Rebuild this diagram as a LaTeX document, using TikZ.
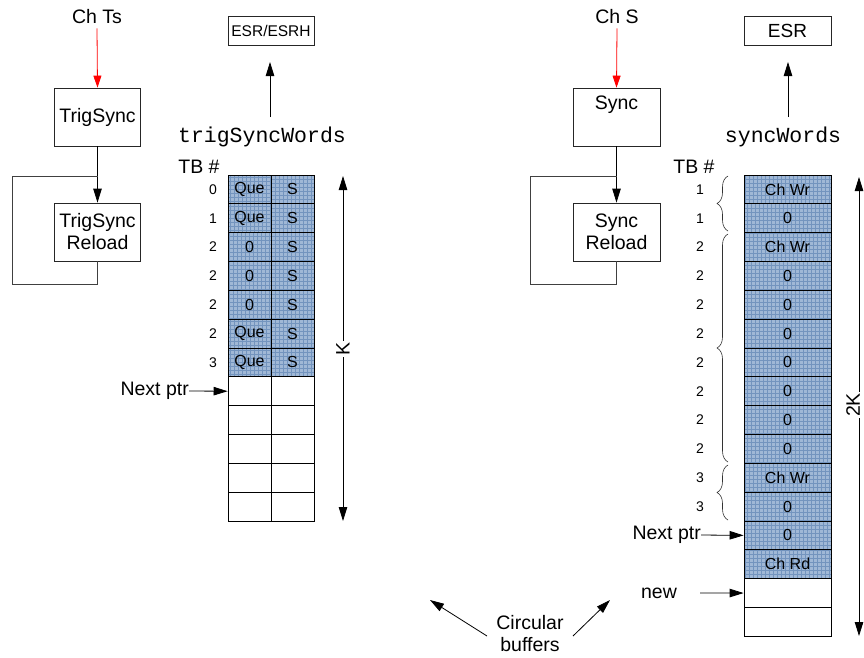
\documentclass[tikz,border=0pt]{standalone}
\usepackage{fontspec}
\setmainfont{Liberation Sans}
\setmonofont{Liberation Mono}
\usetikzlibrary{arrows.meta,decorations.pathreplacing,calc}
\definecolor{cellblue}{HTML}{A0B8D6}
\definecolor{gridblue}{HTML}{7394BE}
\begin{document}
\begin{tikzpicture}[x=1pt,y=-1pt,
  lbl/.style={font=\fontsize{19.5}{22}\selectfont, inner sep=0pt},
  box/.style={draw=black!85, line width=0.8pt, minimum width=86pt, minimum height=58pt, align=center, font=\fontsize{19.5}{22}\selectfont, inner sep=0pt},
  smallbox/.style={draw=black!85, line width=0.8pt, minimum width=86pt, minimum height=29pt, inner sep=0pt},
  tb/.style={font=\fontsize{14}{16}\selectfont, inner sep=0pt},
  mono/.style={font=\ttfamily\fontsize{21.5}{24}\selectfont, inner sep=0pt},
  arr/.style={line width=0.8pt, -{Triangle[length=14pt,width=8.5pt]}},
  redarr/.style={red, line width=0.8pt, -{Triangle[length=12pt,width=8pt]}},
  darr/.style={line width=0.8pt, {Triangle[length=14pt,width=8.5pt]}-{Triangle[length=14pt,width=8.5pt]}},
  loopline/.style={black!75, line width=0.8pt},
  cell/.style={draw=black, line width=0.8pt, minimum height=28.83pt, inner sep=0pt, font=\fontsize{16}{18}\selectfont},
  bluecell/.style={cell, fill=cellblue, path picture={\draw[gridblue, line width=0.35pt, step=4pt] (path picture bounding box.south west) grid (path picture bounding box.north east);}},
  brc/.style={decorate, decoration={brace, amplitude=11pt}, line width=0.6pt, black!80},
]
\useasboundingbox (0,0) rectangle (864,657);

% ---------------- LEFT PART ----------------
\node[lbl] (chts) at (97,17) {Ch Ts};
\node[box] (trig) at (97.5,117) {TrigSync};
\node[box] (trigr) at (97.5,232) {TrigSync\\Reload};
\draw[redarr] (chts.south) ++(0,4) coordinate (rs1) -- (trig.north);
\draw[arr] (trig.south) -- (trigr.north);
\coordinate (lj) at (97.5,176);
\draw[loopline] (trigr.south) -- ++(0,23) -| (12,176) -- (lj);

\node[smallbox, font=\fontsize{15.5}{18}\selectfont] (esrh) at (271,30.5) {ESR/ESRH};
\node[mono] (tsw) at (262,137) {trigSyncWords};
\coordinate (a1s) at (270,117);
\coordinate (a1e) at (270,62);
\draw[arr] (a1s) -- (a1e);

\node[lbl] (tbl) at (199,167) {TB \#};

\foreach \i/\a/\t in {0/Que/0,1/Que/1,2/0/2,3/0/2,4/0/2,5/Que/2,6/Que/3}{
  \node[bluecell, minimum width=43pt] (L\i-a) at (249.5,{175+28.83*(\i+0.5)}) {\a};
  \node[bluecell, minimum width=43pt] (L\i-b) at (292.5,{175+28.83*(\i+0.5)}) {S};
  \node[tb] (Lt\i) at (213,{175+28.83*(\i+0.5)}) {\t};
}
\foreach \i in {7,...,11}{
  \node[cell, minimum width=43pt] (L\i-a) at (249.5,{175+28.83*(\i+0.5)}) {};
  \node[cell, minimum width=43pt] (L\i-b) at (292.5,{175+28.83*(\i+0.5)}) {};
}
\node[lbl, anchor=east] (lnext) at (189,391) {Next ptr};
\draw[arr] (lnext.east) -- (L7-a.west);

\coordinate (kt) at (343,176);
\coordinate (kb) at (343,521);
\draw[darr] (kt) -- node[lbl, fill=white, rotate=90, inner sep=1.5pt] (klbl) {K} (kb);

% ---------------- RIGHT PART ----------------
\node[lbl] (chs) at (617,17) {Ch S};
\node[box, minimum width=87pt] (sync) at (616.5,117) {Sync\\\strut};
\node[box, minimum width=87pt] (syncr) at (616.5,232) {Sync\\Reload};
\draw[redarr] (chs.south) ++(0,4) coordinate (rs2) -- (sync.north);
\draw[arr] (sync.south) -- (syncr.north);
\coordinate (rj) at (616.5,176);
\draw[loopline] (syncr.south) -- ++(0,23) -| (530,176) -- (rj);

\node[smallbox, minimum width=87pt, font=\fontsize{19}{22}\selectfont] (esr) at (787.5,30.5) {ESR};
\node[mono] (sw) at (783,137) {syncWords};
\coordinate (a2s) at (788,117);
\coordinate (a2e) at (788,62);
\draw[arr] (a2s) -- (a2e);

\node[lbl] (tbr) at (694,167) {TB \#};

\foreach \i/\a in {0/Ch Wr,1/0,2/Ch Wr,3/0,4/0,5/0,6/0,7/0,8/0,9/0,10/Ch Wr,11/0,12/0,13/Ch Rd}{
  \node[bluecell, minimum width=87pt] (R\i) at (787.5,{175+28.83*(\i+0.5)}) {\a};
}
\foreach \i in {14,15}{
  \node[cell, minimum width=87pt] (R\i) at (787.5,{175+28.83*(\i+0.5)}) {};
}
\foreach \i/\t in {0/1,1/1,2/2,3/2,4/2,5/2,6/2,7/2,8/2,9/2,10/3,11/3}{
  \node[tb] (Rt\i) at (700,{175+28.83*(\i+0.5)}) {\t};
}

\draw[brc] (728,231) -- (728,176);
\draw[brc] (728,462) -- (728,234);
\draw[brc] (728,520) -- (728,465);

\node[lbl, anchor=east] (rnext) at (701,535) {Next ptr};
\draw[arr] (rnext.east) -- (R12.west);
\node[lbl] (rnew) at (659,593) {new};
\coordinate (news) at (700,593);
\draw[arr] (news) -- (R14.west);

\coordinate (kkt) at (859,177);
\coordinate (kkb) at (859,636);
\draw[darr] (kkt) -- (kkb);
\node[lbl, fill=white, rotate=90, inner sep=1pt] (kklbl) at (853,405) {2K};

% ---------------- BOTTOM ----------------
\node[lbl, align=center] (circ) at (530,634) {Circular\\buffers};
\coordinate (c1s) at (487,636);
\coordinate (c1e) at (430,600);
\coordinate (c2s) at (573,636);
\coordinate (c2e) at (610,600);
\draw[arr] (c1s) -- (c1e);
\draw[arr] (c2s) -- (c2e);
\end{tikzpicture}
\end{document}
